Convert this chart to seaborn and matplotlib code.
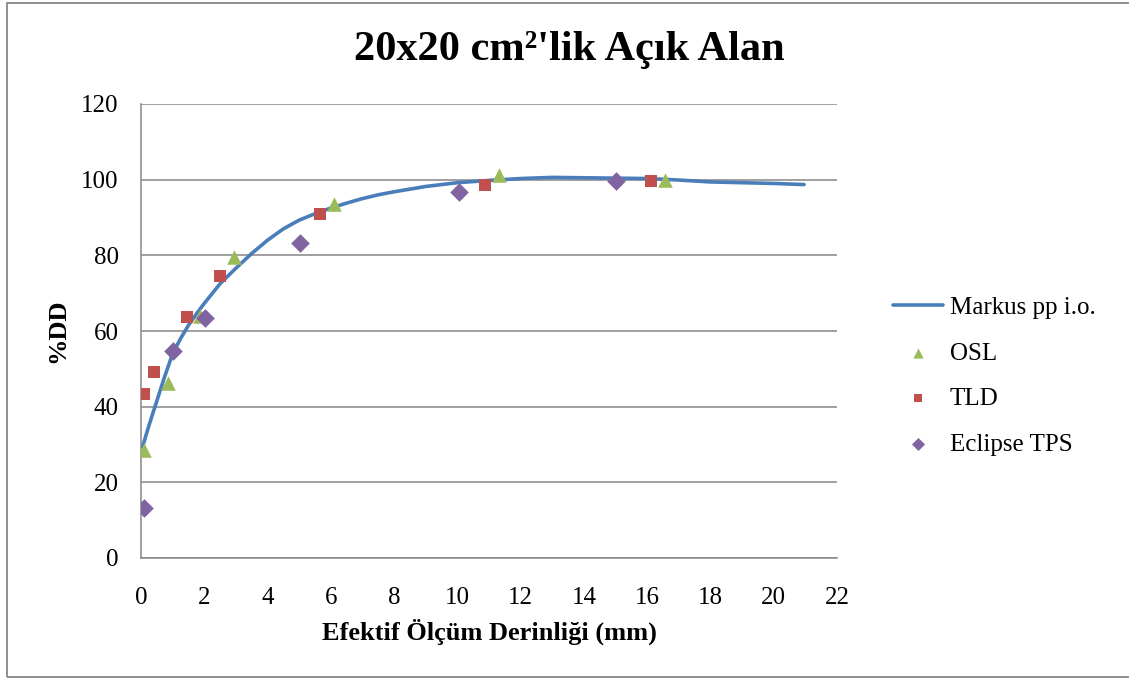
import matplotlib
matplotlib.use("Agg")
import matplotlib.pyplot as plt
from matplotlib.patches import Rectangle
import seaborn as sns

# Markus parallel-plate ion chamber depth-dose curve
markus_depth = [0.05, 0.25, 0.5, 0.75, 1.0, 1.25, 1.5, 1.75, 2.0, 2.5, 3.0, 3.5, 4.0,
                4.5, 5.0, 5.5, 6.0, 6.5, 7.0, 7.5, 8.0, 9.0, 10.0, 11.0, 12.0, 13.0,
                14.0, 15.0, 16.0, 17.0, 18.0, 19.0, 20.0, 20.96]
markus_dd = [29.4, 35.0, 41.5, 48.0, 54.0, 58.0, 61.5, 64.5, 67.3, 72.5, 76.6, 80.5, 84.0,
             87.0, 89.3, 91.0, 92.5, 93.8, 95.0, 96.0, 96.8, 98.2, 99.2, 99.8, 100.3, 100.6,
             100.5, 100.4, 100.3, 99.9, 99.4, 99.2, 99.0, 98.7]

# OSL dosimeter readings
osl_depth = [0.1, 0.86, 1.85, 2.95, 6.09, 11.33, 16.56]
osl_dd = [28.5, 46.2, 64.0, 79.5, 93.5, 101.2, 99.9]

# TLD readings
tld_depth = [0.1, 0.41, 1.46, 2.49, 5.65, 10.88, 16.12]
tld_dd = [43.4, 49.1, 63.8, 74.5, 91.0, 98.7, 99.7]

# Eclipse TPS calculation
tps_depth = [0.1, 1.0, 2.02, 5.02, 10.04, 15.03]
tps_dd = [13.3, 54.6, 63.4, 83.3, 96.7, 99.7]

x_ticks = list(range(0, 23, 2))
y_ticks = list(range(0, 121, 20))

title = "20x20 cm²'lik Açık Alan"
x_label = "Efektif Ölçüm Derinliği (mm)"
y_label = "%DD"

sns.set_theme(style="white")
plt.rcParams["font.family"] = ["Liberation Serif", "DejaVu Serif"]
plt.rcParams["text.color"] = "black"
plt.rcParams["axes.labelcolor"] = "black"

W, H = 1129, 679
fig = plt.figure(figsize=(W / 100, H / 100), dpi=100)
ax = fig.add_axes([141 / W, 1 - 558 / H, (837 - 141) / W, (558 - 104) / H])

grid_col = "#868686"

sns.lineplot(x=markus_depth, y=markus_dd, ax=ax, color="#4A7EBB", linewidth=2.6,
             label="Markus pp i.o.", sort=False, zorder=3)
sns.scatterplot(x=osl_depth, y=osl_dd, ax=ax, marker="^", color="#9BBB59", s=110,
                linewidth=0, label="OSL", zorder=4)
sns.scatterplot(x=tld_depth, y=tld_dd, ax=ax, marker="s", color="#C0504D", s=85,
                linewidth=0, label="TLD", zorder=4)
sns.scatterplot(x=tps_depth, y=tps_dd, ax=ax, marker="D", color="#8064A2", s=90,
                linewidth=0, label="Eclipse TPS", zorder=4)

ax.set_xlim(0, 22)
ax.set_ylim(0, 120)
ax.set_xticks(x_ticks)
ax.set_yticks(y_ticks)
ax.tick_params(axis="both", length=0, labelsize=18, colors="black")
ax.tick_params(axis="y", pad=16)
ax.tick_params(axis="x", pad=21)
ax.yaxis.grid(True, color=grid_col, linewidth=1.1)
ax.xaxis.grid(False)
for side in ["top", "right"]:
    ax.spines[side].set_visible(False)
for side in ["left", "bottom"]:
    ax.spines[side].set_color(grid_col)
    ax.spines[side].set_linewidth(1.1)

ax.set_xlabel(x_label, fontsize=19, fontweight="bold")
ax.xaxis.set_label_coords(0.5, -(632 - 558) / (558 - 104))
ax.xaxis.label.set_va("center")
ax.set_ylabel(y_label, fontsize=19, fontweight="bold")
ax.yaxis.set_label_coords(-(141 - 58) / (837 - 141), 0.5)
ax.yaxis.label.set_va("center")

fig.text(569 / W, 1 - 50 / H, title, ha="center", va="center",
         fontsize=30.5, fontweight="bold", color="black")

handles, labels = ax.get_legend_handles_labels()
ax.get_legend().remove()
fig.legend(handles, labels, loc="center left", bbox_to_anchor=(870 / W, 1 - 376 / H),
           frameon=False, fontsize=18, labelspacing=0.92, handlelength=2.0,
           handletextpad=0.3, markerscale=0.7)

fig.patches.append(Rectangle((7 / W, 2 / H), 1.2, 1 - 5 / H, transform=fig.transFigure,
                             fill=False, edgecolor="#878787", linewidth=1.3))

fig.savefig("out.png", dpi=100)
